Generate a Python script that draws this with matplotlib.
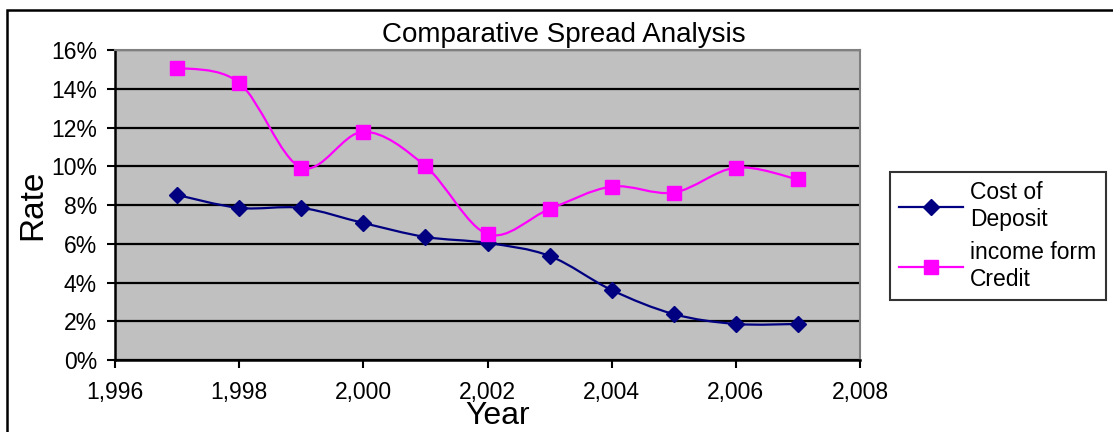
import matplotlib.pyplot as plt
import numpy as np
from matplotlib.path import Path
from matplotlib.patches import PathPatch, Rectangle
from matplotlib.lines import Line2D
from matplotlib.ticker import FuncFormatter

plt.rcParams['font.family'] = ['Liberation Sans', 'DejaVu Sans']

years = [1997, 1998, 1999, 2000, 2001, 2002, 2003, 2004, 2005, 2006, 2007]
cost_of_deposit = [8.52, 7.85, 7.85, 7.07, 6.35, 6.04, 5.37, 3.61, 2.37, 1.86, 1.86]
income_from_credit = [15.09, 14.31, 9.93, 11.78, 10.01, 6.50, 7.79, 8.95, 8.64, 9.93, 9.32]

series_names = ['Cost of\nDeposit', 'income form\nCredit']
series_colors = ['#000080', '#FF00FF']
series_markers = ['D', 's']


# Excel-style smoothed line: cubic bezier segments through the data points
def smooth_path(x, y):
    pts = np.column_stack([x, y]).astype(float)
    ext = np.vstack([pts[0], pts, pts[-1]])
    verts = [pts[0]]
    codes = [Path.MOVETO]
    for i in range(len(pts) - 1):
        p0, p1, p2, p3 = ext[i], ext[i + 1], ext[i + 2], ext[i + 3]
        verts += [p1 + (p2 - p0) / 6, p2 - (p3 - p1) / 6, p2]
        codes += [Path.CURVE4] * 3
    return Path(verts, codes)


fig = plt.figure(figsize=(11.13, 4.32), dpi=100)
ax = fig.add_axes([115 / 1113, 72 / 432, 745 / 1113, 310 / 432])
ax.set_facecolor('#C0C0C0')

data = [np.array(cost_of_deposit) / 100, np.array(income_from_credit) / 100]
for vals, color, marker in zip(data, series_colors, series_markers):
    ax.add_patch(PathPatch(smooth_path(years, vals), facecolor='none',
                           edgecolor=color, lw=1.6, zorder=3))
    ax.plot(years, vals, linestyle='none', marker=marker, color=color,
            markersize=8.5 if marker == 'D' else 9.5, zorder=4)

ax.set_xlim(1996, 2008)
ax.set_ylim(0, 0.16)
ax.set_xticks(range(1996, 2009, 2))
ax.set_yticks(np.arange(0, 0.161, 0.02))
ax.xaxis.set_major_formatter(FuncFormatter(lambda v, p: f'{int(v):,}'))
ax.yaxis.set_major_formatter(FuncFormatter(lambda v, p: f'{v * 100:.0f}%'))
ax.tick_params(length=6, width=1.5, direction='out', color='black')
ax.tick_params(axis='x', pad=9)
ax.tick_params(axis='y', pad=7)
for lbl in ax.get_xticklabels() + ax.get_yticklabels():
    lbl.set_fontsize(16.5)
ax.grid(axis='y', color='black', lw=1.6)
ax.set_axisbelow(True)

for side in ['left', 'bottom']:
    ax.spines[side].set_linewidth(1.8)
    ax.spines[side].set_color('black')
for side in ['top', 'right']:
    ax.spines[side].set_linewidth(1.5)
    ax.spines[side].set_color('#808080')

ax.text(0.603, 1.027, 'Comparative Spread Analysis', transform=ax.transAxes,
        fontsize=20, ha='center', va='baseline')
ax.set_xlabel('Year', fontsize=23)
ax.xaxis.set_label_coords(0.513, -0.205)
ax.xaxis.label.set_va('baseline')
ax.set_ylabel('Rate', fontsize=24)
ax.yaxis.set_label_coords(-0.11, 0.5)
ax.yaxis.label.set_va('center')

handles = [Line2D([0], [0], color=c, marker=m, lw=1.6,
                  markersize=8.5 if m == 'D' else 9.5)
           for c, m in zip(series_colors, series_markers)]
leg = fig.legend(handles, series_names, loc='upper left',
                 bbox_to_anchor=(890 / 1113, 1 - 172 / 432),
                 fontsize=16.5, frameon=True, fancybox=False,
                 handlelength=2.8, labelspacing=0.45, borderpad=0.4,
                 handletextpad=0.3, borderaxespad=0)
leg.get_frame().set_edgecolor('black')
leg.get_frame().set_linewidth(1.5)

fig.add_artist(Rectangle((7 / 1113, -0.2), 1.2, 1.2 - 10 / 432, fill=False,
                         edgecolor='black', lw=1.8, transform=fig.transFigure))

fig.savefig('out.png', dpi=100)
